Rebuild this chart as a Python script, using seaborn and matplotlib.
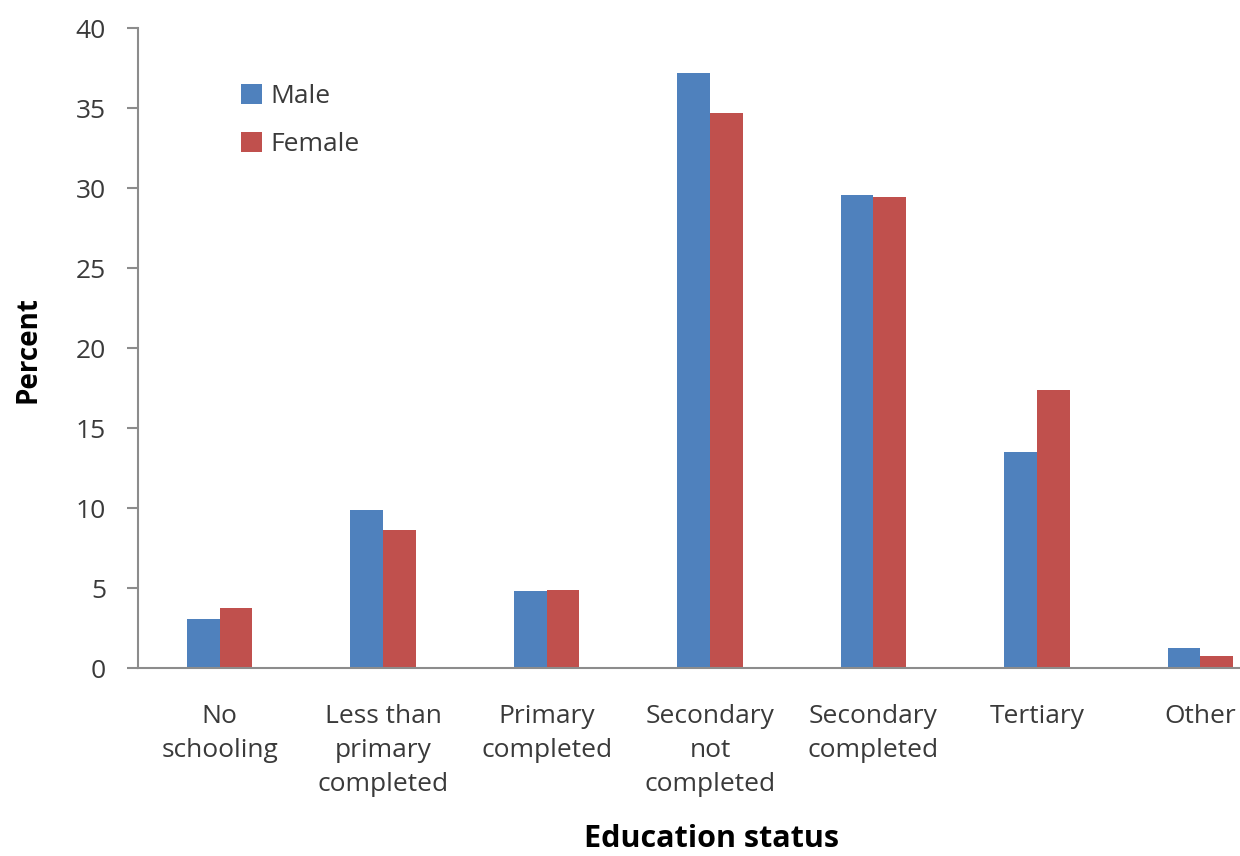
import matplotlib
matplotlib.use("Agg")
import matplotlib.pyplot as plt
import pandas as pd
import seaborn as sns

categories = [
    "No\nschooling",
    "Less than\nprimary\ncompleted",
    "Primary\ncompleted",
    "Secondary\nnot\ncompleted",
    "Secondary\ncompleted",
    "Tertiary",
    "Other",
]
male = [3.1, 9.9, 4.85, 37.2, 29.55, 13.5, 1.3]
female = [3.75, 8.65, 4.9, 34.7, 29.45, 17.4, 0.75]
series = ["Male", "Female"]
colors = ["#4F81BD", "#C0504D"]
y_ticks = [0, 5, 10, 15, 20, 25, 30, 35, 40]

df = pd.DataFrame({
    "Education status": categories * 2,
    "Sex": [series[0]] * len(categories) + [series[1]] * len(categories),
    "Percent": male + female,
})

sns.set_theme(style="white")
plt.rcParams["font.family"] = ["Open Sans", "DejaVu Sans"]

W, H = 1240, 856
fig = plt.figure(figsize=(W / 100, H / 100), dpi=100)
ax_left, ax_right, ax_top, ax_bottom = 138, 1282, 28.3, 668.3
ax = fig.add_axes([ax_left / W, 1 - ax_bottom / H,
                   (ax_right - ax_left) / W, (ax_bottom - ax_top) / H])

sns.barplot(data=df, x="Education status", y="Percent", hue="Sex",
            palette=colors, width=0.4, saturation=1, ax=ax,
            edgecolor="none", linewidth=0)

ax.set_xlim(-0.5, len(categories) - 0.5)
ax.set_ylim(0, 40)
ax.set_yticks(y_ticks)
ax.set_yticklabels([str(t) for t in y_ticks])

grey = "#8C8C8C"
text_col = "#3A3A3A"
for side in ["top", "right"]:
    ax.spines[side].set_visible(False)
for side in ["left", "bottom"]:
    ax.spines[side].set_color(grey)
    ax.spines[side].set_linewidth(1.5)

ax.tick_params(axis="y", which="both", left=True, length=8, width=1.5,
               color=grey, pad=15, labelsize=19, labelcolor=text_col)
ax.tick_params(axis="x", which="both", bottom=False, length=0, pad=26,
               labelsize=19, labelcolor=text_col)
for lbl in ax.get_xticklabels():
    lbl.set_linespacing(1.46)
    lbl.set_horizontalalignment("center")

ax.set_xlabel("")
ax.set_ylabel("")
fig.text(28 / W, 1 - 350 / H, "Percent", rotation=90, ha="center",
         va="center", fontsize=20, fontweight="bold", color="black")
fig.text(711 / W, 1 - 854 / H, "Education status", ha="center",
         va="bottom", fontsize=22, fontweight="bold", color="black")

ax.legend(loc="upper left", bbox_to_anchor=(241 / W, 1 - 84 / H),
          bbox_transform=fig.transFigure, frameon=False, fontsize=19,
          handlelength=0.8, handleheight=0.8, handletextpad=0.3,
          labelspacing=0.85, borderpad=0, borderaxespad=0,
          labelcolor=text_col)

fig.savefig("out.png", dpi=100)
